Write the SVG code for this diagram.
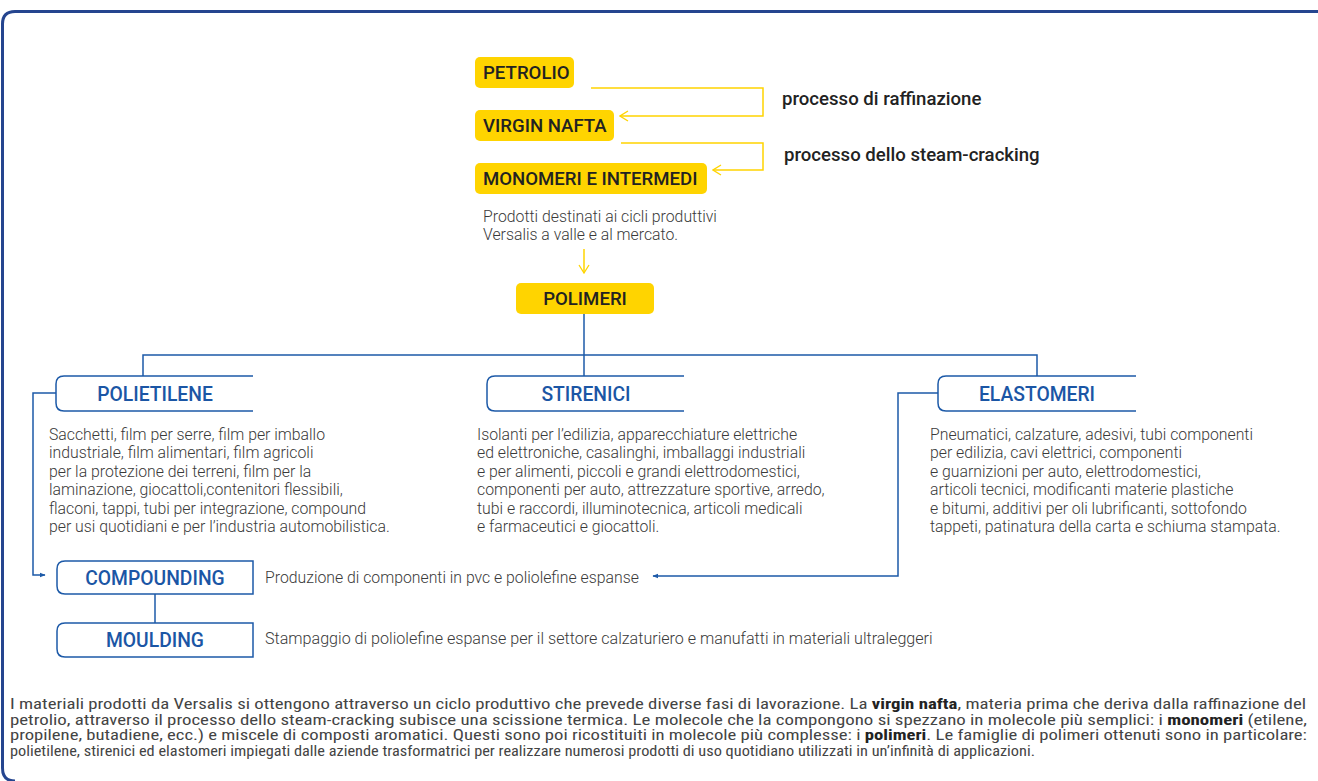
<svg xmlns="http://www.w3.org/2000/svg" width="1318" height="781" viewBox="0 0 1318 781">
<defs>
<style>
.ybox{fill:#ffd400}
.ytxt{font-family:Roboto,"Liberation Sans",sans-serif;font-size:18.6px;font-weight:500;fill:#222}
.proc{font-family:Roboto,"Liberation Sans",sans-serif;font-size:18.6px;font-weight:500;fill:#222}
.ycon{fill:none;stroke:#ffd400;stroke-width:1.5}
.bcon{fill:none;stroke:#1d5aa8;stroke-width:1.5}
.bbox{fill:#fff;stroke:#1d5aa8;stroke-width:1.5}
.btxt{font-family:Roboto,"Liberation Sans",sans-serif;font-size:19.3px;font-weight:500;fill:#1b56a5;text-anchor:middle}
.desc{font-family:Roboto,"Liberation Sans",sans-serif;font-size:15.8px;font-weight:300;fill:#3a3a3a}
.side{font-family:Roboto,"Liberation Sans",sans-serif;font-size:16.1px;font-weight:300;fill:#3a3a3a}
.para{font-family:"Roboto Condensed",Roboto,"Liberation Sans",sans-serif;font-size:14.6px;font-weight:400;fill:#444}
.b{font-weight:700;fill:#222}
</style>
<marker id="ya" viewBox="0 0 10 12" refX="9" refY="6" markerWidth="10" markerHeight="12" markerUnits="userSpaceOnUse" orient="auto">
<polyline points="1,1 9,6 1,11" fill="none" stroke="#ffd400" stroke-width="1.3"/>
</marker>
<marker id="ba" viewBox="0 0 10 10" refX="9" refY="5" markerWidth="6" markerHeight="6" markerUnits="userSpaceOnUse" orient="auto">
<path d="M0,1 L10,5 L0,9 Z" fill="#1d5aa8"/>
</marker>
</defs>
<rect width="1318" height="781" fill="#fff"/>
<path d="M1322,11.5 H15 Q2.5,11.5 2.5,24 V768 Q2.5,781 15,781" fill="none" stroke="#25458f" stroke-width="3"/>

<g id="connectors">
<path class="ycon" d="M591,88 H763 V116 H620" marker-end="url(#ya)"/>
<path class="ycon" d="M621,143 H763 V170 H713" marker-end="url(#ya)"/>
<path class="ycon" d="M584,249 V273" marker-end="url(#ya)"/>
<path class="bcon" d="M584,314 V376"/>
<path class="bcon" d="M143,376 V355 H1037 V376"/>
<path class="bcon" d="M56,393 H33 V575 H45" marker-end="url(#ba)"/>
<path class="bcon" d="M938,393 H898 V576 H653" marker-end="url(#ba)"/>
<path class="bcon" d="M155,594 V623"/>
</g>

<g id="petrolio">
<rect class="ybox" x="475" y="57" width="99" height="31" rx="5"/>
<text class="ytxt" x="483" y="79">PETROLIO</text>
</g>
<g id="virgin-nafta">
<rect class="ybox" x="475" y="110" width="139" height="31" rx="5"/>
<text class="ytxt" x="483" y="132">VIRGIN NAFTA</text>
</g>
<g id="monomeri">
<rect class="ybox" x="475" y="163" width="232" height="31" rx="5"/>
<text class="ytxt" x="483" y="185">MONOMERI E INTERMEDI</text>
</g>
<g id="label-raffinazione">
<text class="proc" x="782" y="105">processo di raffinazione</text>
</g>
<g id="label-steam">
<text class="proc" x="784" y="161">processo dello steam-cracking</text>
</g>
<g id="prodotti">
<text class="desc" x="483" y="222">Prodotti destinati ai cicli produttivi</text>
<text class="desc" x="483" y="239.5">Versalis a valle e al mercato.</text>
</g>
<g id="polimeri">
<rect class="ybox" x="516" y="283" width="138" height="31" rx="5"/>
<text class="ytxt" x="585" y="305" text-anchor="middle">POLIMERI</text>
</g>

<g id="polietilene">
<path class="bbox" d="M253,376 H64 Q56,376 56,384 V403 Q56,411 64,411 H253"/>
<text class="btxt" x="155" y="400.5">POLIETILENE</text>
<text class="desc" x="49" y="439.5">Sacchetti, film per serre, film per imballo</text>
<text class="desc" x="49" y="458">industriale, film alimentari, film agricoli</text>
<text class="desc" x="49" y="476.5">per la protezione dei terreni, film per la</text>
<text class="desc" x="49" y="495">laminazione, giocattoli,contenitori flessibili,</text>
<text class="desc" x="49" y="513.5">flaconi, tappi, tubi per integrazione, compound</text>
<text class="desc" x="49" y="532">per usi quotidiani e per l’industria automobilistica.</text>
</g>
<g id="stirenici">
<path class="bbox" d="M684,376 H495 Q487,376 487,384 V403 Q487,411 495,411 H684"/>
<text class="btxt" x="586" y="400.5">STIRENICI</text>
<text class="desc" x="477" y="439.5">Isolanti per l’edilizia, apparecchiature elettriche</text>
<text class="desc" x="477" y="458">ed elettroniche, casalinghi, imballaggi industriali</text>
<text class="desc" x="477" y="476.5">e per alimenti, piccoli e grandi elettrodomestici,</text>
<text class="desc" x="477" y="495">componenti per auto, attrezzature sportive, arredo,</text>
<text class="desc" x="477" y="513.5">tubi e raccordi, illuminotecnica, articoli medicali</text>
<text class="desc" x="477" y="532">e farmaceutici e giocattoli.</text>
</g>
<g id="elastomeri">
<path class="bbox" d="M1136,376 H946 Q938,376 938,384 V403 Q938,411 946,411 H1136"/>
<text class="btxt" x="1037" y="400.5">ELASTOMERI</text>
<text class="desc" x="930" y="439.5">Pneumatici, calzature, adesivi, tubi componenti</text>
<text class="desc" x="930" y="458">per edilizia, cavi elettrici, componenti</text>
<text class="desc" x="930" y="476.5">e guarnizioni per auto, elettrodomestici,</text>
<text class="desc" x="930" y="495">articoli tecnici, modificanti materie plastiche</text>
<text class="desc" x="930" y="513.5">e bitumi, additivi per oli lubrificanti, sottofondo</text>
<text class="desc" x="930" y="532">tappeti, patinatura della carta e schiuma stampata.</text>
</g>

<g id="compounding">
<path class="bbox" d="M253,561 H65 Q57,561 57,569 V586 Q57,594 65,594 H253 Z"/>
<text class="btxt" x="155" y="584.5">COMPOUNDING</text>
<text class="desc" x="265" y="582.5">Produzione di componenti in pvc e poliolefine espanse</text>
</g>
<g id="moulding">
<path class="bbox" d="M253,623 H65 Q57,623 57,631 V649 Q57,657 65,657 H253 Z"/>
<text class="btxt" x="155" y="647">MOULDING</text>
<text class="side" x="265" y="643.5">Stampaggio di poliolefine espanse per il settore calzaturiero e manufatti in materiali ultraleggeri</text>
</g>

<g id="paragraph">
<text class="para" x="10" y="709" textLength="1296" lengthAdjust="spacingAndGlyphs">I materiali prodotti da Versalis si ottengono attraverso un ciclo produttivo che prevede diverse fasi di lavorazione. La <tspan class="b">virgin nafta</tspan>, materia prima che deriva dalla raffinazione del</text>
<text class="para" x="10" y="724.5" textLength="1297" lengthAdjust="spacingAndGlyphs">petrolio, attraverso il processo dello steam-cracking subisce una scissione termica. Le molecole che la compongono si spezzano in molecole più semplici: i <tspan class="b">monomeri</tspan> (etilene,</text>
<text class="para" x="10" y="740" textLength="1297" lengthAdjust="spacingAndGlyphs">propilene, butadiene, ecc.) e miscele di composti aromatici. Questi sono poi ricostituiti in molecole più complesse: i <tspan class="b">polimeri</tspan>. Le famiglie di polimeri ottenuti sono in particolare:</text>
<text class="para" x="10" y="756" textLength="1025" lengthAdjust="spacingAndGlyphs">polietilene, stirenici ed elastomeri impiegati dalle aziende trasformatrici per realizzare numerosi prodotti di uso quotidiano utilizzati in un’infinità di applicazioni.</text>
</g>
</svg>
